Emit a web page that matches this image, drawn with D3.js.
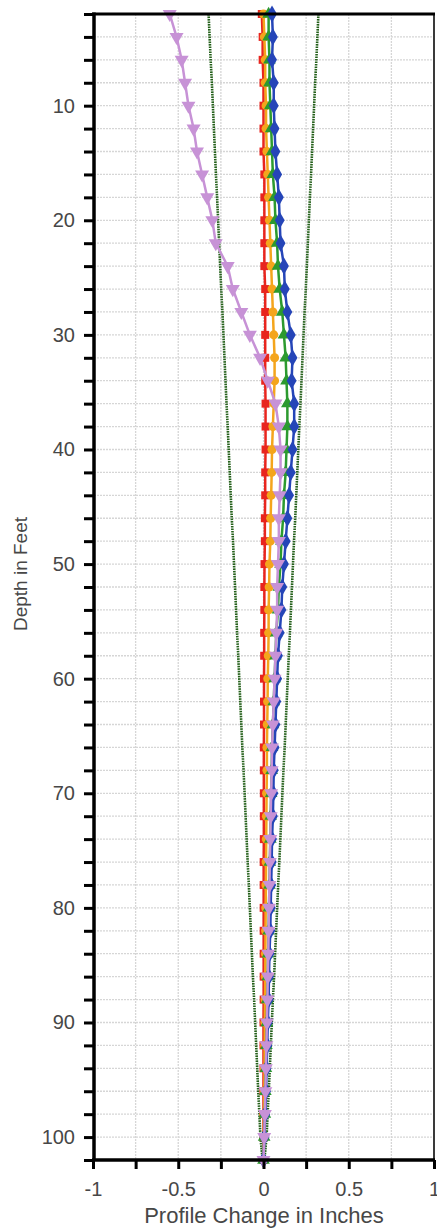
<!DOCTYPE html>
<html>
<head>
<meta charset="utf-8">
<script src="https://cdn.jsdelivr.net/npm/d3@7"></script>
<style>
  html, body { margin: 0; padding: 0; background: #fff; }
  svg { display: block; font-family: "Liberation Sans", Arial, sans-serif; }
</style>
</head>
<body>
<svg id="chart" width="437" height="1230"></svg>
<script>
// Depth of each reading, in feet
const depths = [2,4,6,8,10,12,14,16,18,20,22,24,26,28,30,32,34,36,38,40,42,44,46,48,50,
  52,54,56,58,60,62,64,66,68,70,72,74,76,78,80,82,84,86,88,90,92,94,96,98,100,102];

// Cumulative profile change (inches) for each survey
const seriesRed = [-0.01,-0.005,-0.005,0,0,0,0,0.005,0.005,0.005,0.005,0.005,0.01,0.01,0.01,0.01,0.01,0.012,0.012,0.012,
  0.01,0.01,0.008,0.008,0.006,0.005,0.005,0.004,0.004,0.003,0.003,0.003,0.002,0.002,0.002,0.002,0.002,0.001,0.001,0.001,
  0.001,0.001,0.001,0.001,0,0,0,0,0,0,0];
const seriesOrange = [0,0.005,0.01,0.01,0.015,0.015,0.02,0.025,0.03,0.035,0.04,0.045,0.05,0.055,0.06,0.065,0.065,0.06,0.055,0.05,
  0.048,0.045,0.042,0.04,0.035,0.033,0.03,0.03,0.028,0.025,0.024,0.022,0.02,0.02,0.018,0.017,0.016,0.015,0.014,0.013,
  0.012,0.011,0.01,0.009,0.008,0.007,0.006,0.005,0.003,0.002,0];
const seriesGreen = [0.03,0.03,0.035,0.035,0.04,0.045,0.05,0.055,0.065,0.07,0.08,0.085,0.095,0.11,0.12,0.13,0.135,0.14,0.14,0.135,
  0.13,0.12,0.115,0.105,0.1,0.09,0.085,0.075,0.07,0.065,0.06,0.055,0.05,0.048,0.045,0.042,0.04,0.037,0.035,0.032,
  0.03,0.027,0.025,0.022,0.02,0.017,0.014,0.011,0.008,0.004,0];
const seriesBlue = [0.05,0.055,0.05,0.06,0.06,0.065,0.07,0.08,0.09,0.095,0.1,0.12,0.125,0.14,0.16,0.17,0.165,0.18,0.18,0.17,
  0.16,0.15,0.14,0.13,0.12,0.11,0.105,0.095,0.085,0.08,0.075,0.07,0.065,0.06,0.058,0.055,0.05,0.048,0.045,0.042,
  0.04,0.035,0.032,0.03,0.025,0.022,0.018,0.015,0.01,0.005,0];
const seriesPurple = [-0.55,-0.51,-0.48,-0.46,-0.44,-0.41,-0.39,-0.36,-0.33,-0.3,-0.28,-0.21,-0.18,-0.13,-0.08,-0.02,0.025,0.07,0.09,0.1,
  0.1,0.095,0.09,0.09,0.085,0.08,0.08,0.075,0.07,0.065,0.06,0.055,0.05,0.048,0.045,0.042,0.04,0.037,0.035,0.032,
  0.03,0.028,0.025,0.023,0.02,0.017,0.014,0.011,0.008,0.004,0];

// Half-width of the accuracy envelope (inches), drawn on both sides of zero
const envelope = [0.322,0.316,0.31,0.303,0.297,0.291,0.285,0.279,0.272,0.266,0.26,0.254,0.248,0.241,0.235,0.229,0.223,0.217,0.21,0.204,
  0.198,0.192,0.186,0.179,0.173,0.167,0.161,0.155,0.148,0.142,0.136,0.13,0.124,0.117,0.111,0.105,0.099,0.093,0.086,0.08,
  0.074,0.068,0.062,0.055,0.049,0.043,0.037,0.031,0.024,0.018,0.005];

// Axis ticks
const xTicks = [-1,-0.75,-0.5,-0.25,0,0.25,0.5,0.75,1];
const xTickLabels = ["-1","","-0.5","","0","","0.5","","1"];
const yTicks = depths;
const yTickLabels = [10,20,30,40,50,60,70,80,90,100];

const svg = d3.select("#chart");
const plotLeft = 94, plotRight = 434, plotTop = 14, plotBottom = 1160;
const textColor = "#474747";

const x = d3.scaleLinear().domain([-1, 1]).range([plotLeft - 1, plotRight]);
const y = d3.scaleLinear().domain([2, 102]).range([plotTop, plotBottom]);

// Grid
const grid = svg.append("g").attr("stroke", "#d6d6d6").attr("stroke-width", 1.3)
  .attr("stroke-dasharray", "2,1");
grid.selectAll("line.h").data(yTicks.filter(d => d > 2 && d < 102)).join("line")
  .attr("class", "h")
  .attr("x1", plotLeft).attr("x2", plotRight).attr("y1", d => y(d)).attr("y2", d => y(d));
grid.selectAll("line.v").data(xTicks.filter(d => d > -1 && d < 1)).join("line")
  .attr("class", "v")
  .attr("y1", plotTop).attr("y2", plotBottom).attr("x1", d => x(d)).attr("x2", d => x(d));

// Envelope lines
const envLine = sign => d3.line().x((d, i) => x(sign * envelope[i])).y(d => y(d));
[-1, 1].forEach(s => {
  svg.append("path").datum(depths).attr("d", envLine(s))
    .attr("fill", "none").attr("stroke", "#24601a").attr("stroke-width", 2.6)
    .attr("stroke-dasharray", "1.6,0.9");
});

// Survey series
const series = [
  { values: seriesRed, color: "#e8251e", symbol: d3.symbolSquare, size: 64, rot: 0 },
  { values: seriesOrange, color: "#f4a51c", symbol: d3.symbolCircle, size: 64, rot: 0 },
  { values: seriesGreen, color: "#2c9a2f", symbol: d3.symbolTriangle, size: 70, rot: 0 },
  { values: seriesBlue, color: "#2545b8", symbol: d3.symbolDiamond, size: 85, rot: 0 },
  { values: seriesPurple, color: "#c792d6", symbol: d3.symbolTriangle, size: 85, rot: 180 }
];

series.forEach(s => {
  const line = d3.line().x((d, i) => x(s.values[i])).y(d => y(d));
  svg.append("path").datum(depths).attr("d", line)
    .attr("fill", "none").attr("stroke", s.color).attr("stroke-width", 2.5);
  svg.append("g").selectAll("path").data(depths).join("path")
    .attr("d", d3.symbol().type(s.symbol).size(s.size))
    .attr("transform", (d, i) => `translate(${x(s.values[i])},${y(d)}) rotate(${s.rot})`)
    .attr("fill", s.color);
});

// Frame
svg.append("line").attr("x1", plotRight).attr("x2", plotRight).attr("y1", plotTop).attr("y2", plotBottom)
  .attr("stroke", "#3a3a3a").attr("stroke-width", 2);
svg.append("line").attr("x1", plotLeft - 2).attr("x2", plotRight + 1).attr("y1", plotTop).attr("y2", plotTop)
  .attr("stroke", "#000").attr("stroke-width", 3);

// Axes
const yAxis = d3.axisLeft(y).tickValues(yTicks).tickSize(10).tickPadding(9)
  .tickFormat(d => yTickLabels.includes(d) ? d : "");
const gy = svg.append("g").attr("transform", `translate(${plotLeft},0)`).call(yAxis);
gy.select(".domain").attr("stroke-width", 3.5).attr("d", `M0,${plotTop - 1.5}V${plotBottom}`);
gy.selectAll(".tick line").attr("stroke-width", 3);
gy.selectAll(".tick text").attr("font-size", 20).attr("fill", textColor).attr("font-weight", "normal")
  .attr("font-family", "Liberation Sans, Arial, sans-serif");

const xAxis = d3.axisBottom(x).tickValues(xTicks).tickSize(9).tickPadding(13)
  .tickFormat((d, i) => xTickLabels[i]);
const gx = svg.append("g").attr("transform", `translate(0,${plotBottom})`).call(xAxis);
gx.select(".domain").attr("stroke-width", 3.5).attr("d", `M${plotLeft - 2},0H${plotRight + 1}`);
gx.selectAll(".tick line").attr("stroke-width", 3);
gx.selectAll(".tick text").attr("font-size", 20).attr("fill", textColor).attr("font-weight", "normal")
  .attr("font-family", "Liberation Sans, Arial, sans-serif");

// Axis titles
svg.append("text").attr("x", 264).attr("y", 1223)
  .attr("text-anchor", "middle").attr("font-size", 22).attr("fill", textColor)
  .text("Profile Change in Inches");
svg.append("text").attr("transform", `translate(27,574) rotate(-90)`)
  .attr("text-anchor", "middle").attr("font-size", 19).attr("fill", textColor)
  .text("Depth in Feet");
</script>
</body>
</html>
